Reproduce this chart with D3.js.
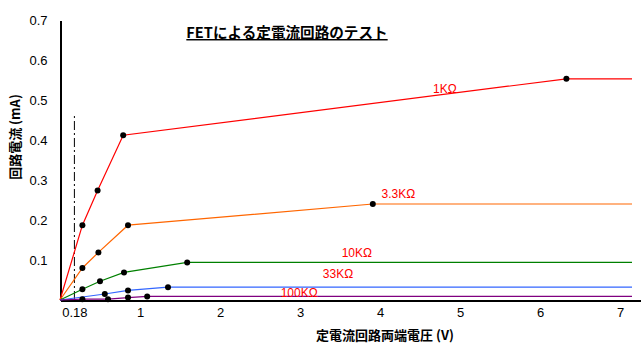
<!DOCTYPE html>
<html><head><meta charset="utf-8">
<script src="https://cdn.jsdelivr.net/npm/d3@7"></script>
<style>
body{margin:0;background:#fff;}
svg{display:block;}
.tick text{font-family:"Liberation Sans Narrow","Liberation Sans",Arial,sans-serif;}
</style></head>
<body><svg id="c" width="641" height="361"></svg>
<script>
// ---- data ----
const seriesNames = ["1KΩ", "3.3KΩ", "10KΩ", "33KΩ", "100KΩ"];
const seriesColors = ["#ff0000", "#ff6600", "#008000", "#3366ff", "#800080"];
// measured points (V, mA)
const volt1k   = [0.28, 0.47, 0.79, 6.33];
const curr1k   = [0.187, 0.274, 0.412, 0.553];
const volt3k3  = [0.28, 0.48, 0.85, 3.91];
const curr3k3  = [0.080, 0.119, 0.187, 0.240];
const volt10k  = [0.28, 0.50, 0.80, 1.59];
const curr10k  = [0.027, 0.047, 0.069, 0.094];
const volt33k  = [0.56, 0.85, 1.35];
const curr33k  = [0.015, 0.024, 0.032];
const volt100k = [0.28, 0.60, 0.85, 1.09];
const curr100k = [0.002, 0.002, 0.006, 0.009];
const lineEndV = 7.15;
const xTicks = [0.18, 1, 2, 3, 4, 5, 6, 7];
const xTickLabels = ["0.18", "1", "2", "3", "4", "5", "6", "7"];
const yTicks = [0.1, 0.2, 0.3, 0.4, 0.5, 0.6, 0.7];
const markerV = 0.18, markerTop = 0.46;
// label anchors in data units
const labelV = [4.81, 4.23, 3.71, 3.475, 2.99];
const labelI = [0.528, 0.265, 0.1175, 0.065, 0.0175];
const title = "FETによる定電流回路のテスト";
const xTitle = "定電流回路両端電圧 (V)";
const yTitle = "回路電流 (mA)";

const volts = [volt1k, volt3k3, volt10k, volt33k, volt100k];
const currs = [curr1k, curr3k3, curr10k, curr33k, curr100k];

const svg = d3.select("#c");
const x = d3.scaleLinear().domain([0, 7.25]).range([60, 640]);
const y = d3.scaleLinear().domain([0, 0.7]).range([300, 20]);

// axes
const xAxis = d3.axisBottom(x).tickValues(xTicks).tickFormat((d,i)=>xTickLabels[i]).tickSize(0).tickPadding(7);
const gx = svg.append("g").attr("transform","translate(0,300.5)").call(xAxis);
gx.select(".domain").attr("stroke","#000").attr("stroke-width",1.2).attr("shape-rendering","crispEdges");
gx.selectAll(".tick text").attr("font-size",13).attr("fill","#000");

const yAxis = d3.axisLeft(y).tickValues(yTicks).tickFormat(d3.format(".1f")).tickSize(0).tickPadding(13);
const gy = svg.append("g").attr("transform","translate(60.5,0)").call(yAxis);
gy.select(".domain").attr("stroke","#000").attr("stroke-width",1.2).attr("shape-rendering","crispEdges");
gy.selectAll(".tick text").attr("font-size",13).attr("fill","#000");

// dash-dot marker
svg.append("line")
  .attr("x1", x(markerV)).attr("x2", x(markerV))
  .attr("y1", y(0)).attr("y2", y(markerTop))
  .attr("stroke","#000").attr("stroke-width",1)
  .attr("stroke-dasharray","9,3,2,3");

// series lines
const line = d3.line().x(d=>x(d[0])).y(d=>y(d[1]));
seriesNames.forEach((name, i) => {
  const v = volts[i], c = currs[i];
  const pts = [[0,0]].concat(v.map((vv,j)=>[vv,c[j]]));
  pts.push([lineEndV, c[c.length-1]]);
  svg.append("path").datum(pts).attr("d", line)
    .attr("fill","none").attr("stroke", seriesColors[i]).attr("stroke-width",1.2);
});
// points
seriesNames.forEach((name, i) => {
  const v = volts[i], c = currs[i];
  svg.append("g").selectAll("circle").data(v.map((vv,j)=>[vv,c[j]])).join("circle")
    .attr("cx", d=>x(d[0])).attr("cy", d=>y(d[1])).attr("r", 3).attr("fill","#000");
});
// labels
seriesNames.forEach((name, i) => {
  svg.append("text").attr("x", x(labelV[i])).attr("y", y(labelI[i]))
    .attr("text-anchor","middle").attr("dominant-baseline","central")
    .attr("font-family","'Liberation Sans Narrow','Liberation Sans',sans-serif")
    .attr("font-size",12).attr("fill","#ff0000").text(name);
});

// titles
svg.append("text").attr("x", 287).attr("y", 38).attr("text-anchor","middle")
  .attr("font-family","'Noto Sans CJK JP',sans-serif").attr("font-weight","bold")
  .attr("font-size",14.6).attr("text-decoration","underline").attr("fill","#000").text(title);
svg.append("text").attr("x", 385).attr("y", 340).attr("text-anchor","middle")
  .attr("font-family","'Noto Sans CJK JP',sans-serif").attr("font-weight","bold")
  .attr("font-size",13).attr("fill","#000").text(xTitle);
svg.append("text").attr("transform","translate(20,137) rotate(-90)").attr("text-anchor","middle")
  .attr("font-family","'Noto Sans CJK JP',sans-serif").attr("font-weight","bold")
  .attr("font-size",13).attr("fill","#000").text(yTitle);
</script></body></html>
